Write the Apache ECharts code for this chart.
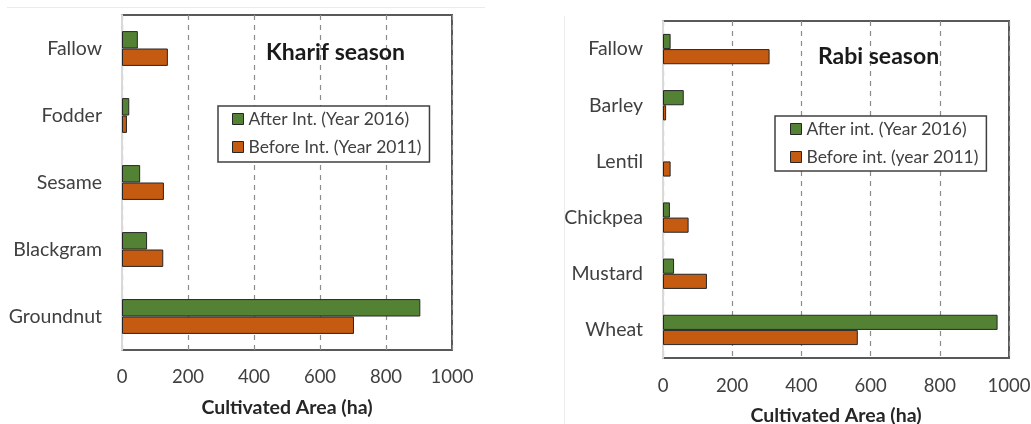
<!DOCTYPE html>
<html>
<head>
<meta charset="utf-8">
<script src="https://cdn.jsdelivr.net/npm/echarts@6/dist/echarts.min.js"></script>
<style>
html,body{margin:0;padding:0;background:#fff;}
#chart{width:1031px;height:424px;}
</style>
</head>
<body>
<div id="chart"></div>
<script>
// ---- Data ----
const kharifCategories = ['Fallow', 'Fodder', 'Sesame', 'Blackgram', 'Groundnut'];
const kharifAfter = [48, 22, 55, 76, 904];
const kharifBefore = [139, 15, 127, 125, 703];
const kharifTitle = 'Kharif season';
const kharifAfterName = 'After Int. (Year 2016)';
const kharifBeforeName = 'Before Int. (Year 2011)';

const rabiCategories = ['Fallow', 'Barley', 'Lentil', 'Chickpea', 'Mustard', 'Wheat'];
const rabiAfter = [22, 60, 0, 20, 32, 967];
const rabiBefore = [308, 9, 22, 74, 127, 563];
const rabiTitle = 'Rabi season';
const rabiAfterName = 'After int. (Year 2016)';
const rabiBeforeName = 'Before int. (year 2011)';

const xTickValues = [0, 200, 400, 600, 800, 1000];
const xAxisTitle = 'Cultivated Area (ha)';

// ---- Styles ----
const FONT = 'Lato';
const GREEN = '#548235';
const ORANGE = '#C55A11';
const TXT = '#404040';

function xAxis(gridIndex, margin, gap) {
  return {
    type: 'value', gridIndex: gridIndex, min: 0, max: 1000, interval: 200,
    axisLine: { show: false },
    axisTick: { show: false },
    axisLabel: { fontFamily: FONT, fontSize: 18.5, color: TXT, margin: margin,
      formatter: function (v) { return xTickValues.indexOf(v) >= 0 ? String(v) : ''; } },
    splitLine: { show: true, lineStyle: { color: '#8c8c8c', type: [5, 5], width: 1.2 } },
    name: xAxisTitle, nameLocation: 'middle', nameGap: gap,
    nameTextStyle: { fontFamily: FONT, fontSize: 19.5, fontWeight: 'bold', color: '#262626' }
  };
}
function yAxis(gridIndex, cats) {
  return {
    type: 'category', gridIndex: gridIndex, data: cats, inverse: true,
    axisLine: { show: true, lineStyle: { color: '#d9d9d9', width: 2 } },
    axisTick: { show: false },
    axisLabel: { fontFamily: FONT, fontSize: 19.5, color: TXT, margin: 20 },
    splitLine: { show: false }
  };
}
function bar(name, data, color, idx, gap) {
  return {
    type: 'bar', name: name,
    data: data.map(function (v) { return v === 0 ? null : v; }),
    xAxisIndex: idx, yAxisIndex: idx,
    barGap: '0%', barCategoryGap: gap,
    itemStyle: { color: color, borderColor: '#262626', borderWidth: 1 },
    emphasis: { disabled: true }
  };
}
function legend(data, left, top, pad) {
  return {
    data: data, orient: 'vertical', left: left, top: top,
    itemWidth: 11, itemHeight: 11, itemGap: 8,
    padding: pad,
    borderColor: '#404040', borderWidth: 1.5, backgroundColor: '#fff',
    icon: 'rect',
    itemStyle: { borderColor: '#262626', borderWidth: 1 },
    textStyle: { fontFamily: FONT, fontSize: 17.5, color: TXT, lineHeight: 20 },
    selectedMode: false
  };
}

const chart = echarts.init(document.getElementById('chart'), null, { renderer: 'canvas' });
chart.setOption({
  animation: false,
  backgroundColor: '#fff',
  textStyle: { fontFamily: FONT },
  title: [
    { text: kharifTitle, left: 266, top: 41, padding: 0,
      textStyle: { fontFamily: FONT, fontSize: 23, fontWeight: 'bold', color: '#1a1a1a' } },
    { text: rabiTitle, left: 818, top: 45, padding: 0,
      textStyle: { fontFamily: FONT, fontSize: 23, fontWeight: 'bold', color: '#1a1a1a' } }
  ],
  legend: [
    legend([kharifAfterName, kharifBeforeName], 218, 106, [3, 8, 5, 14]),
    legend([rabiAfterName, rabiBeforeName], 775, 116, [3, 8, 4, 15])
  ],
  grid: [
    { left: 122, top: 15, width: 330, height: 335, outerBoundsMode: 'none', containLabel: false,
      show: true, borderColor: '#595959', borderWidth: 2, backgroundColor: 'transparent' },
    { left: 663, top: 21, width: 346, height: 337, outerBoundsMode: 'none', containLabel: false,
      show: true, borderColor: '#595959', borderWidth: 2, backgroundColor: 'transparent' }
  ],
  xAxis: [xAxis(0, 18, 48), xAxis(1, 19, 48)],
  yAxis: [yAxis(0, kharifCategories), yAxis(1, rabiCategories)],
  series: [
    bar(kharifAfterName, kharifAfter, GREEN, 0, '48%'),
    bar(kharifBeforeName, kharifBefore, ORANGE, 0, '48%'),
    bar(rabiAfterName, rabiAfter, GREEN, 1, '46%'),
    bar(rabiBeforeName, rabiBefore, ORANGE, 1, '46%')
  ],
  graphic: [
    { type: 'line', shape: { x1: 7, y1: 7.5, x2: 485, y2: 7.5 }, style: { stroke: '#ebebeb', lineWidth: 1 }, silent: true },
    { type: 'line', shape: { x1: 564.5, y1: 16, x2: 564.5, y2: 424 }, style: { stroke: '#ececec', lineWidth: 1 }, silent: true }
  ]
});
</script>
</body>
</html>
